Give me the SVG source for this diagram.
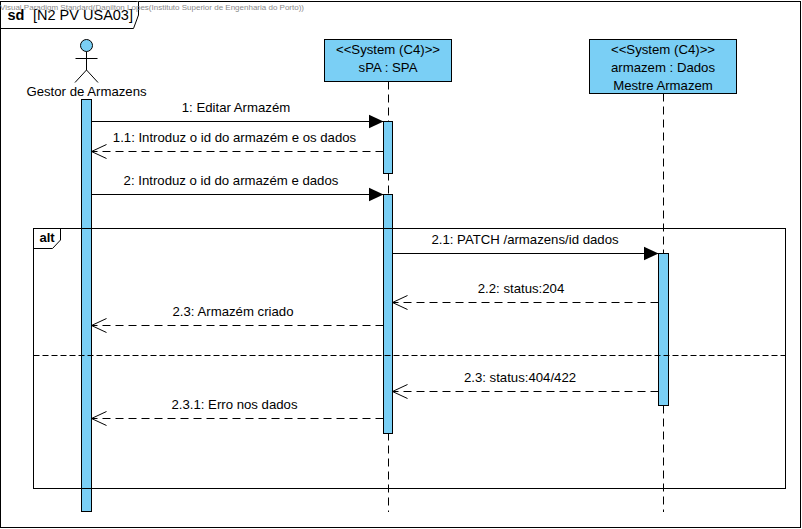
<svg xmlns="http://www.w3.org/2000/svg" width="802" height="529" viewBox="0 0 802 529">
<style>
text{font-family:"Liberation Sans",Arial,sans-serif;font-size:13.2px;fill:#000;text-anchor:middle}
.ln{fill:none;stroke:#000;stroke-width:1}
.life{fill:none;stroke:#000;stroke-width:1;stroke-dasharray:8 5}
.ret{fill:none;stroke:#000;stroke-width:1;stroke-dasharray:8 5}
.box{fill:#7acff5;stroke:#000;stroke-width:1}
</style>
<defs>
<marker id="filled" markerUnits="userSpaceOnUse" markerWidth="16" markerHeight="16" refX="15" refY="8" orient="auto"><path d="M0 1L15 8L0 15Z" fill="#000"/></marker>
<marker id="openhead" markerUnits="userSpaceOnUse" markerWidth="17" markerHeight="16" refX="15.5" refY="8" orient="auto"><path d="M0.5 1L15.5 8L0.5 15" fill="none" stroke="#000"/></marker>
</defs>
<rect width="802" height="529" fill="#fff"/>
<g id="frame">
<rect class="ln" x="0.5" y="1.5" width="800" height="526"/>
<path d="M0.5 28.5H133.5L138.5 15V1.5" fill="#fff" stroke="#000"/>
<text x="16" y="20" style="font-size:14.5px;font-weight:bold">sd</text>
<text x="83" y="20" style="font-size:14.5px">[N2 PV USA03]</text>
<text x="0" y="10" style="font-size:8px;text-anchor:start;fill:#8a8a8a">Visual Paradigm Standard(Danilton Lopes(Instituto Superior de Engenharia do Porto))</text>
</g>
<g id="lifelines">
<path class="life" d="M388.5 81.5V512"/>
<path class="life" d="M663.5 93.5V512"/>
</g>
<g id="activation-actor"><rect class="box" x="81.5" y="99.5" width="10" height="412"/></g>
<g id="activation-spa-1"><rect class="box" x="383.5" y="121.5" width="9" height="52"/></g>
<g id="activation-spa-2"><rect class="box" x="383.5" y="194.5" width="9" height="239"/></g>
<g id="activation-armazem"><rect class="box" x="658.5" y="253.5" width="10" height="152"/></g>
<g id="alt-fragment">
<rect class="ln" x="33.5" y="228.5" width="752" height="260"/>
<path d="M33.5 248.5H52.5L60.5 240V228.5" fill="none" stroke="#000"/>
<text x="47" y="242" style="font-size:13px;font-weight:bold">alt</text>
<path class="ln" d="M33.5 355.5H785.5" stroke-dasharray="6 3"/>
</g>
<g id="actor">
<circle cx="86.5" cy="45.5" r="6" class="box"/>
<path class="ln" d="M86.5 51.5V70M75.5 58.5H97.5M86.5 70L75 82.5M86.5 70L98 82.5"/>
<text x="86.5" y="96">Gestor de Armazens</text>
</g>
<g id="sPA">
<rect class="box" x="324.5" y="39.5" width="127" height="42"/>
<text x="388" y="54">&lt;&lt;System (C4)&gt;&gt;</text>
<text x="388" y="72">sPA : SPA</text>
</g>
<g id="armazem">
<rect class="box" x="589.5" y="39.5" width="147" height="54"/>
<text x="663" y="54">&lt;&lt;System (C4)&gt;&gt;</text>
<text x="663" y="72">armazem : Dados</text>
<text x="663" y="90">Mestre Armazem</text>
</g>
<g id="connectors">
<path class="ln" d="M91.5 121.5H383.5" marker-end="url(#filled)"/>
<path class="ret" d="M383.5 151.5H91.5" marker-end="url(#openhead)"/>
<path class="ln" d="M91.5 194.5H383.5" marker-end="url(#filled)"/>
<path class="ln" d="M392.5 253.5H658.5" marker-end="url(#filled)"/>
<path class="ret" d="M658.5 302.5H392.5" marker-end="url(#openhead)"/>
<path class="ret" d="M383.5 325.5H91.5" marker-end="url(#openhead)"/>
<path class="ret" d="M658.5 391.5H392.5" marker-end="url(#openhead)"/>
<path class="ret" d="M383.5 418.5H91.5" marker-end="url(#openhead)"/>
</g>
<g id="labels">
<text x="236" y="112">1: Editar Armazém</text>
<text x="234.5" y="142">1.1: Introduz o id do armazém e os dados</text>
<text x="231" y="185">2: Introduz o id do armazém e dados</text>
<text x="525" y="244">2.1: PATCH /armazens/id dados</text>
<text x="521" y="293">2.2: status:204</text>
<text x="233" y="316">2.3: Armazém criado</text>
<text x="520" y="382">2.3: status:404/422</text>
<text x="234.5" y="409">2.3.1: Erro nos dados</text>
</g>
</svg>
